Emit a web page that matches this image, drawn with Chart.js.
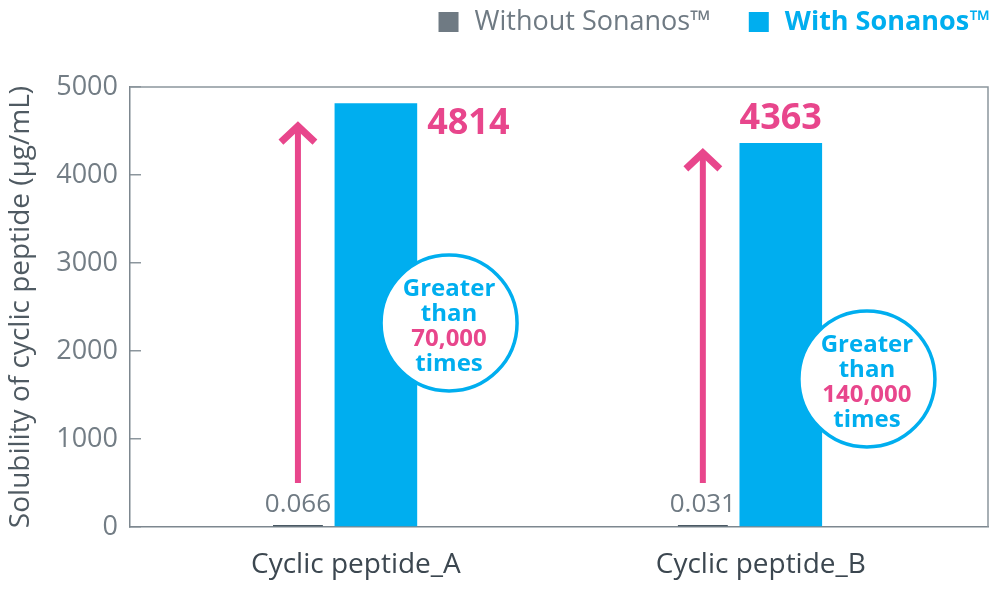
<!DOCTYPE html>
<html>
<head>
<meta charset="utf-8">
<script src="https://cdn.jsdelivr.net/npm/chart.js@4.4.1/dist/chart.umd.min.js"></script>
<style>
html,body{margin:0;padding:0;background:#fff;}
#wrap{width:1000px;height:591px;position:relative;}
</style>
</head>
<body>
<div id="wrap"><canvas id="c" width="1000" height="591"></canvas></div>
<script>
// ---- data ----
const categories = ['Cyclic peptide_A', 'Cyclic peptide_B'];
const seriesNames = ['Without Sonanos™', 'With Sonanos™'];
const withoutValues = [0.066, 0.031];
const withValues = [4814, 4363];
const yTicks = [0, 1000, 2000, 3000, 4000, 5000];
const foldLabels = ['70,000', '140,000'];
const arrowFrom = [500, 500];
const arrowTo = [4590, 4285];

// ---- annotation layout (data units) ----
const valueLabelPlacement = ['right', 'top'];
const circleAt = [{x: 0.277, y: 2318}, {x: 1.309, y: 1682}];

const CYAN = '#00aeef', PINK = '#e8468c', GRAY = '#6f7a83', DARK = '#4a5964';
const FONT = "'Open Sans', 'Noto Sans', sans-serif";

const annotPlugin = {
  id: 'annot',
  beforeDatasetsDraw(chart) {
    const {ctx, chartArea: a} = chart;
    ctx.save();
    ctx.strokeStyle = '#8c969d';
    ctx.lineWidth = 1.5;
    ctx.beginPath();
    ctx.moveTo(a.left, a.top); ctx.lineTo(a.right, a.top); ctx.lineTo(a.right, a.bottom);
    ctx.stroke();
    ctx.restore();
  },
  afterDatasetsDraw(chart) {
    const {ctx} = chart;
    const xs = chart.scales.x, ys = chart.scales.y;
    const m0 = chart.getDatasetMeta(0), m1 = chart.getDatasetMeta(1);
    ctx.save();
    categories.forEach((c, i) => {
      const b0 = m0.data[i], b1 = m1.data[i];
      // small value labels
      ctx.fillStyle = GRAY;
      ctx.font = `26px ${FONT}`;
      ctx.textAlign = 'center';
      ctx.textBaseline = 'middle';
      ctx.fillText(String(withoutValues[i]), b0.x, ys.getPixelForValue(0) - 22);
      // big value labels
      ctx.fillStyle = PINK;
      ctx.font = `bold 36px ${FONT}`;
      if (valueLabelPlacement[i] === 'right') {
        ctx.textAlign = 'left';
        ctx.fillText(String(withValues[i]), b1.x + b1.width / 2 + 10, b1.y + 20);
      } else {
        ctx.textAlign = 'center';
        ctx.fillText(String(withValues[i]), b1.x, b1.y - 24);
      }
      // arrow
      const ax = b0.x;
      const yb = ys.getPixelForValue(arrowFrom[i]);
      const yt = ys.getPixelForValue(arrowTo[i]);
      ctx.strokeStyle = PINK;
      ctx.lineWidth = 6;
      ctx.lineCap = 'butt';
      ctx.beginPath(); ctx.moveTo(ax, yb); ctx.lineTo(ax, yt + 3); ctx.stroke();
      ctx.lineWidth = 7;
      ctx.lineJoin = 'miter';
      ctx.beginPath();
      ctx.moveTo(ax - 17, yt + 19); ctx.lineTo(ax, yt + 3); ctx.lineTo(ax + 17, yt + 19);
      ctx.stroke();
      // circle
      const cx = xs.getPixelForValue(circleAt[i].x), cy = ys.getPixelForValue(circleAt[i].y);
      ctx.beginPath(); ctx.arc(cx, cy, 68, 0, Math.PI * 2);
      ctx.fillStyle = '#fff'; ctx.fill();
      ctx.lineWidth = 3.5; ctx.strokeStyle = CYAN; ctx.stroke();
      const lines = [['Greater', CYAN], ['than', CYAN], [foldLabels[i], PINK], ['times', CYAN]];
      ctx.font = `bold 24px ${FONT}`;
      ctx.textAlign = 'center';
      lines.forEach((l, k) => {
        ctx.fillStyle = l[1];
        ctx.fillText(l[0], cx, cy + 4 + (k - 1.5) * 25);
      });
    });
    ctx.restore();
  },
  afterDraw(chart) {
    // legend
    const {ctx} = chart;
    const colors = ['#6f7a83', CYAN];
    const weights = ['normal', 'bold'];
    ctx.save();
    ctx.textBaseline = 'middle';
    ctx.textAlign = 'left';
    let x = 990;
    const yC = 22;
    for (let i = seriesNames.length - 1; i >= 0; i--) {
      ctx.font = `${weights[i]} 27px ${FONT}`;
      const w = ctx.measureText(seriesNames[i]).width;
      x -= w;
      ctx.fillStyle = colors[i];
      ctx.fillText(seriesNames[i], x, yC);
      x -= 16 + 20;
      ctx.fillRect(x, yC - 10, 20, 20);
      x -= 38;
    }
    ctx.restore();
  }
};

const chart = new Chart(document.getElementById('c'), {
  type: 'bar',
  data: {
    datasets: [
      {
        label: seriesNames[0],
        data: withoutValues.map((v, i) => ({x: i, y: v})),
        backgroundColor: DARK,
        minBarLength: 2,
        categoryPercentage: 0.385,
        barPercentage: 0.64
      },
      {
        label: seriesNames[1],
        data: withValues.map((v, i) => ({x: i, y: v})),
        backgroundColor: CYAN,
        categoryPercentage: 0.385,
        barPercentage: 1.06
      }
    ]
  },
  options: {
    responsive: false,
    animation: false,
    devicePixelRatio: 1,
    layout: {padding: {top: 87, right: 12, left: 0, bottom: 0}},
    plugins: {legend: {display: false}, tooltip: {enabled: false}},
    scales: {
      x: {
        type: 'linear',
        min: -0.511,
        max: 1.608,
        offset: false,
        afterBuildTicks: (s) => { s.ticks = categories.map((c, i) => ({value: i})); },
        afterFit: (s) => { s.height = 64; },
        grid: {display: true, drawOnChartArea: false, drawTicks: false},
        border: {display: true, color: '#7d878f', width: 1.5},
        ticks: {
          callback: (v) => categories[v],
          color: '#3c4750',
          font: {family: FONT, size: 28},
          padding: 21,
          labelOffset: 19,
          maxRotation: 0,
          autoSkip: false
        }
      },
      y: {
        min: 0,
        max: 5000,
        afterBuildTicks: (s) => { s.ticks = yTicks.map(v => ({value: v})); },
        afterFit: (s) => { s.width = 130; },
        grid: {drawOnChartArea: false, drawTicks: true, tickLength: -11, color: '#8c969d', lineWidth: 1.5},
        border: {display: true, color: '#7d878f', width: 1.5},
        ticks: {
          callback: (v) => String(v),
          color: '#737d85',
          font: {family: FONT, size: 27},
          padding: 23
        },
        title: {
          display: true,
          text: 'Solubility of cyclic peptide (µg/mL)',
          color: '#4f5a62',
          font: {family: FONT, size: 28},
          padding: {top: 4, bottom: 0}
        }
      }
    }
  },
  plugins: [annotPlugin]
});
</script>
</body>
</html>
